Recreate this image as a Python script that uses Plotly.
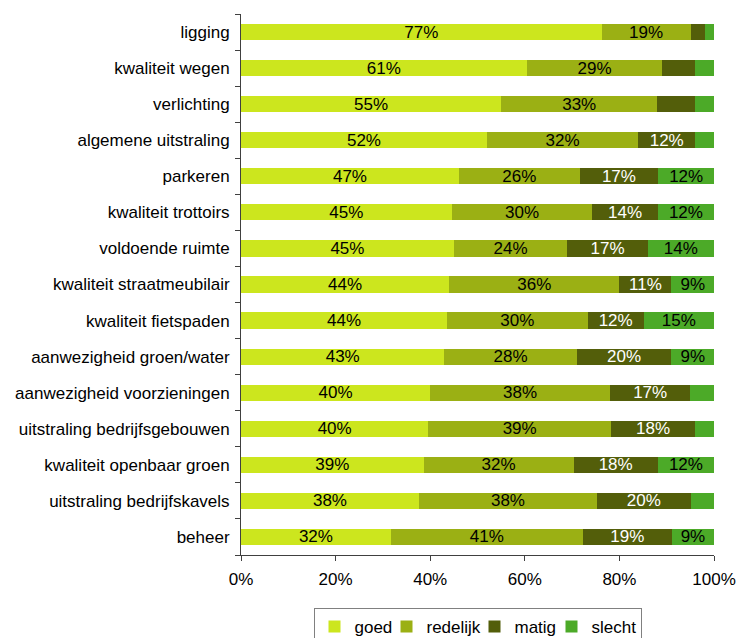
import plotly.graph_objects as go

# Aspects rated (top to bottom)
aspecten = [
    "ligging", "kwaliteit wegen", "verlichting", "algemene uitstraling",
    "parkeren", "kwaliteit trottoirs", "voldoende ruimte",
    "kwaliteit straatmeubilair", "kwaliteit fietspaden",
    "aanwezigheid groen/water", "aanwezigheid voorzieningen",
    "uitstraling bedrijfsgebouwen", "kwaliteit openbaar groen",
    "uitstraling bedrijfskavels", "beheer",
]

# Share of respondents per judgement (%)
goed     = [77, 61, 55, 52, 47, 45, 45, 44, 44, 43, 40, 40, 39, 38, 32]
redelijk = [19, 29, 33, 32, 26, 30, 24, 36, 30, 28, 38, 39, 32, 38, 41]
matig    = [3, 7, 8, 12, 17, 14, 17, 11, 12, 20, 17, 18, 18, 20, 19]
slecht   = [2, 4, 4, 4, 12, 12, 14, 9, 15, 9, 5, 4, 12, 5, 9]

x_ticks = [0, 20, 40, 60, 80, 100]
x_tick_labels = ["0%", "20%", "40%", "60%", "80%", "100%"]

# name, values, fill colour, label colour, legend entry width
series = [
    ("goed", goed, "#CCE61E", "black", 27),
    ("redelijk", redelijk, "#9BB014", "black", 43),
    ("matig", matig, "#535E0A", "white", 32),
    ("slecht", slecht, "#4CAA28", "black", 44),
]

FONT = "Liberation Sans, Arial, sans-serif"
FS = 17

fig = go.Figure()
for name, vals, color, txtcolor, lw in series:
    fig.add_trace(go.Bar(
        name=name,
        y=aspecten,
        x=vals,
        orientation="h",
        marker=dict(color=color, line=dict(width=0)),
        text=[f"{v}%" if v >= 9 else "" for v in vals],
        textposition="inside",
        insidetextanchor="middle",
        textangle=0,
        textfont=dict(color=txtcolor, size=FS, family=FONT),
        hoverinfo="name+x",
        legendwidth=lw,
    ))

fig.update_layout(
    barmode="stack",
    barnorm="percent",
    bargap=0.55,
    width=740,
    height=638,
    margin=dict(l=241, r=26, t=14, b=83, autoexpand=False),
    plot_bgcolor="white",
    paper_bgcolor="white",
    font=dict(family=FONT, size=FS, color="black"),
    uniformtext=dict(minsize=FS, mode="show"),
    legend=dict(
        orientation="h",
        xref="paper", x=0.5, xanchor="center",
        yref="container", y=(638 - 608) / 638, yanchor="top",
        traceorder="normal",
        bordercolor="#808080",
        borderwidth=1,
        font=dict(size=FS, family=FONT),
        itemwidth=30,
    ),
    showlegend=True,
)

fig.update_xaxes(
    range=[0, 100],
    tickvals=x_ticks,
    ticktext=x_tick_labels,
    showgrid=False,
    zeroline=False,
    showline=True,
    linecolor="#404040",
    linewidth=1,
    ticks="outside",
    ticklen=5,
    tickcolor="#404040",
    ticklabelstandoff=4,
    tickfont=dict(size=FS),
    automargin=False,
)

fig.update_yaxes(
    categoryorder="array",
    categoryarray=aspecten[::-1],
    showgrid=False,
    showline=True,
    linecolor="#404040",
    linewidth=1,
    ticks="outside",
    ticklen=5,
    tickcolor="#404040",
    tickson="boundaries",
    ticklabelstandoff=7,
    tickfont=dict(size=FS),
    automargin=False,
)

fig.write_html("out.html")
